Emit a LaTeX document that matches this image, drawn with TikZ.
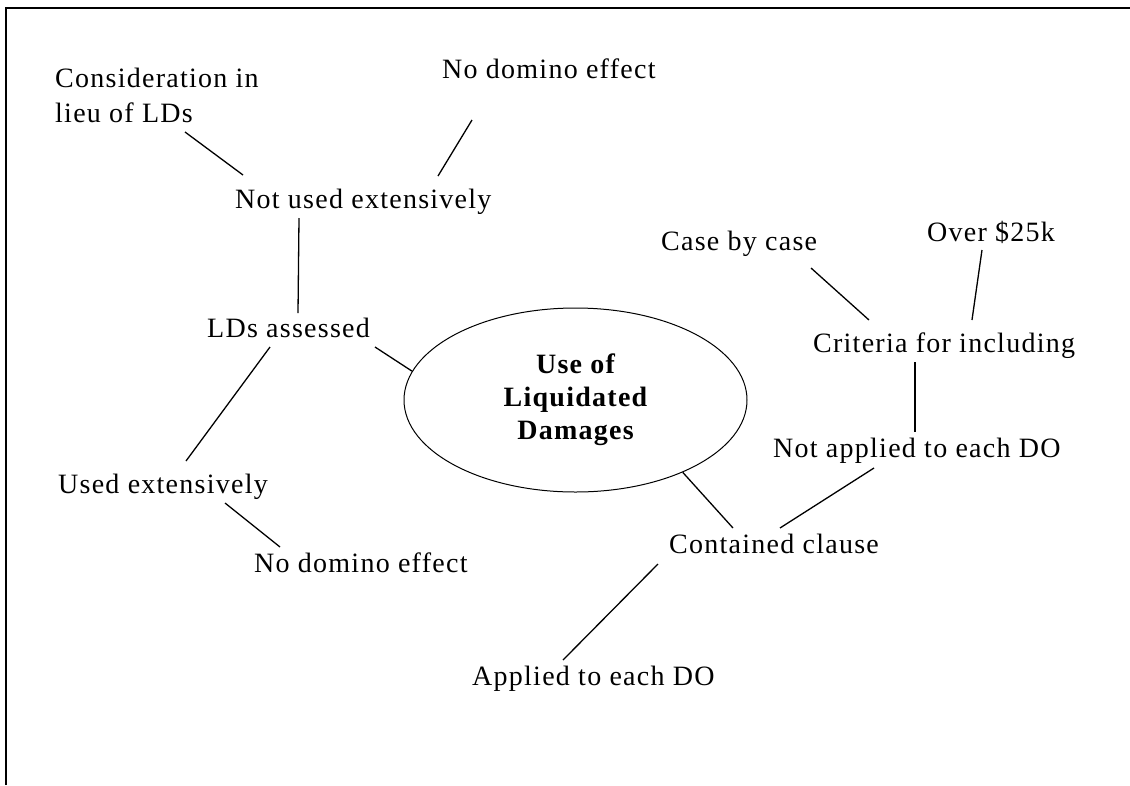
\documentclass[tikz,border=0pt]{standalone}
\usepackage{fontspec}
\setmainfont{Liberation Serif}[LetterSpace=4.5]
\usetikzlibrary{shapes.geometric}
\begin{document}
\begin{tikzpicture}[x=1pt,y=-1pt,
  lbl/.style={anchor=base west, inner sep=0pt, font=\fontsize{28}{34}\selectfont},
  link/.style={line width=1.3pt},
  hub/.style={ellipse, draw, line width=1pt, minimum width=343pt, minimum height=184pt,
    inner sep=0pt, align=center, font=\fontsize{28}{33}\selectfont\bfseries}]
\useasboundingbox (0,0) rectangle (1130,785);

% open frame: top and left edges only
\draw[line width=1.8pt] (6,785) -- (6,8) -- (1130,8);

% central topic
\node[hub] (hub) at (575.5,400) {Use of\\Liquidated\\Damages};

% left branch
\node[lbl] (cons)   at (55,87)   {Consideration in};
\node[lbl] (lieu)   at (55,122)  {lieu of LDs};
\node[lbl] (nodtop) at (442,78)  {No domino effect};
\node[lbl] (notused) at (235,208) {Not used extensively};
\node[lbl] (lds)    at (207,337) {LDs assessed};
\node[lbl] (used)   at (58,493)  {Used extensively};
\node[lbl] (nodbot) at (254,572) {No domino effect};

% right branch
\node[lbl] (case)   at (661,250) {Case by case};
\node[lbl] (over)   at (927,241) {Over \$25k};
\node[lbl] (crit)   at (813,352) {Criteria for including};
\node[lbl] (notapp) at (773,457) {Not applied to each DO};
\node[lbl] (cont)   at (669,553) {Contained clause};
\node[lbl] (app)    at (472,685) {Applied to each DO};

% connectors
\draw[link] ([shift={(130,10)}]lieu.base west) -- ([shift={(8,-33)}]notused.base west);
\draw[link] ([shift={(30,42)}]nodtop.base west) -- ([shift={(203,-32)}]notused.base west);
\draw[link] ([shift={(64,10)}]notused.base west) -- ([shift={(91,-24)}]lds.base west);
\draw[link] ([shift={(168,10)}]lds.base west) -- (hub.170);
\draw[link] ([shift={(63,10)}]lds.base west) -- ([shift={(128,-32)}]used.base west);
\draw[link] ([shift={(167,10)}]used.base west) -- ([shift={(26,-25)}]nodbot.base west);
\draw[link] (hub.-34) -- ([shift={(64,-25)}]cont.base west);
\draw[link] ([shift={(101,11)}]notapp.base west) -- ([shift={(111,-25)}]cont.base west);
\draw[link] ([shift={(-11,11)}]cont.base west) -- ([shift={(91,-25)}]app.base west);
\draw[link] ([shift={(150,18)}]case.base west) -- ([shift={(56,-32)}]crit.base west);
\draw[link] ([shift={(55,9)}]over.base west) -- ([shift={(159,-32)}]crit.base west);
\draw[link] ([shift={(102,10)}]crit.base west) -- ([shift={(142,-25)}]notapp.base west);
\end{tikzpicture}
\end{document}
